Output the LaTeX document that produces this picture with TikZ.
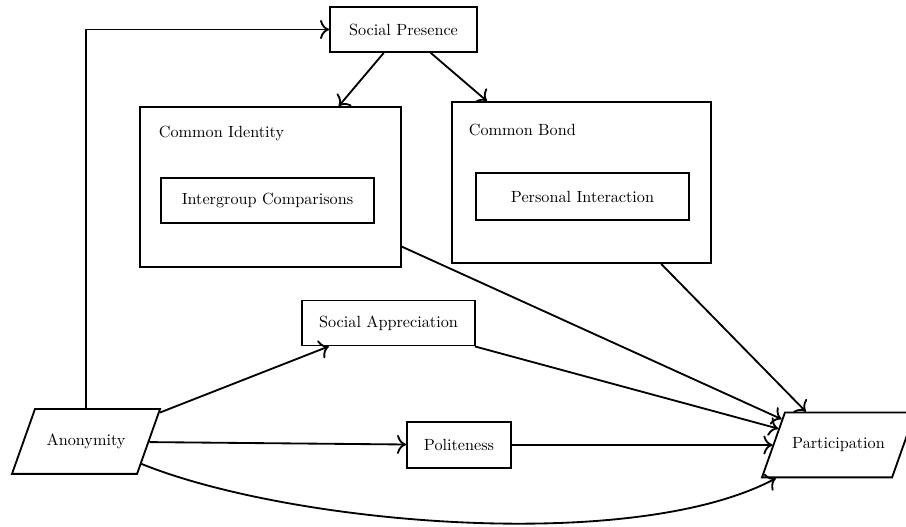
\documentclass[tikz,border=0pt]{standalone}
\usetikzlibrary{shapes.geometric,arrows.meta}
\begin{document}
\begin{tikzpicture}[x=0.654pt,y=-0.654pt, line width=1.2pt, >={To[scale=1.4]},
 every node/.style={font=\fontsize{10.6pt}{12.7pt}\selectfont},
 box/.style={draw, rectangle, inner sep=0pt, align=center},
 para/.style={draw, trapezium, trapezium left angle=70.5, trapezium right angle=109.5,
   trapezium stretches body=true, inner xsep=2pt, inner ysep=16.6pt,
   text height=7.2pt, text depth=2pt},
 conn/.style={->},
 lbl/.style={anchor=base west, inner sep=0pt}]
\useasboundingbox (0,0) rectangle (906,527);
% nodes
\node[box, minimum width=96.1pt, minimum height=29.4pt] (SP) at (403.5,29.5) {Social Presence};
\node[box, minimum width=170.7pt, minimum height=104.6pt] (CI) at (270.5,187) {};
\node[lbl] (CIl) at (158,138) {Common Identity};
\node[box, minimum width=139.3pt, minimum height=29.4pt] (IC) at (267.5,200.5) {Intergroup Comparisons};
\node[box, minimum width=169.4pt, minimum height=105.3pt] (CB) at (581.5,182.5) {};
\node[lbl] (CBl) at (468,136) {Common Bond};
\node[box, minimum width=139.3pt, minimum height=30.7pt] (PI) at (582.5,196.5) {Personal Interaction};
\node[box, minimum width=113.1pt, minimum height=29.4pt] (SA) at (388.5,323) {Social Appreciation};
\node[box, minimum width=68pt, minimum height=30.1pt] (Pol) at (459,445) {Politeness};
\node[para, minimum width=96.8pt] (A) at (86,441.5) {Anonymity};
\node[para, minimum width=100.1pt] (P) at (838.5,445) {Participation};
% connectors
\draw[conn] (A.north) |- (SP.west);
\draw[conn] (SP) -- (CI);
\draw[conn] (SP) -- (CB);
\draw[conn] (CI) -- (P);
\draw[conn] (CB) -- (P);
\draw[conn] (SA) -- (P);
\draw[conn] (A) -- (SA);
\draw[conn] (A) -- (Pol);
\draw[conn] (Pol) -- (P);
\draw[conn] (A) to[out=-22, in=-152, looseness=0.65] (P);
\end{tikzpicture}
\end{document}
